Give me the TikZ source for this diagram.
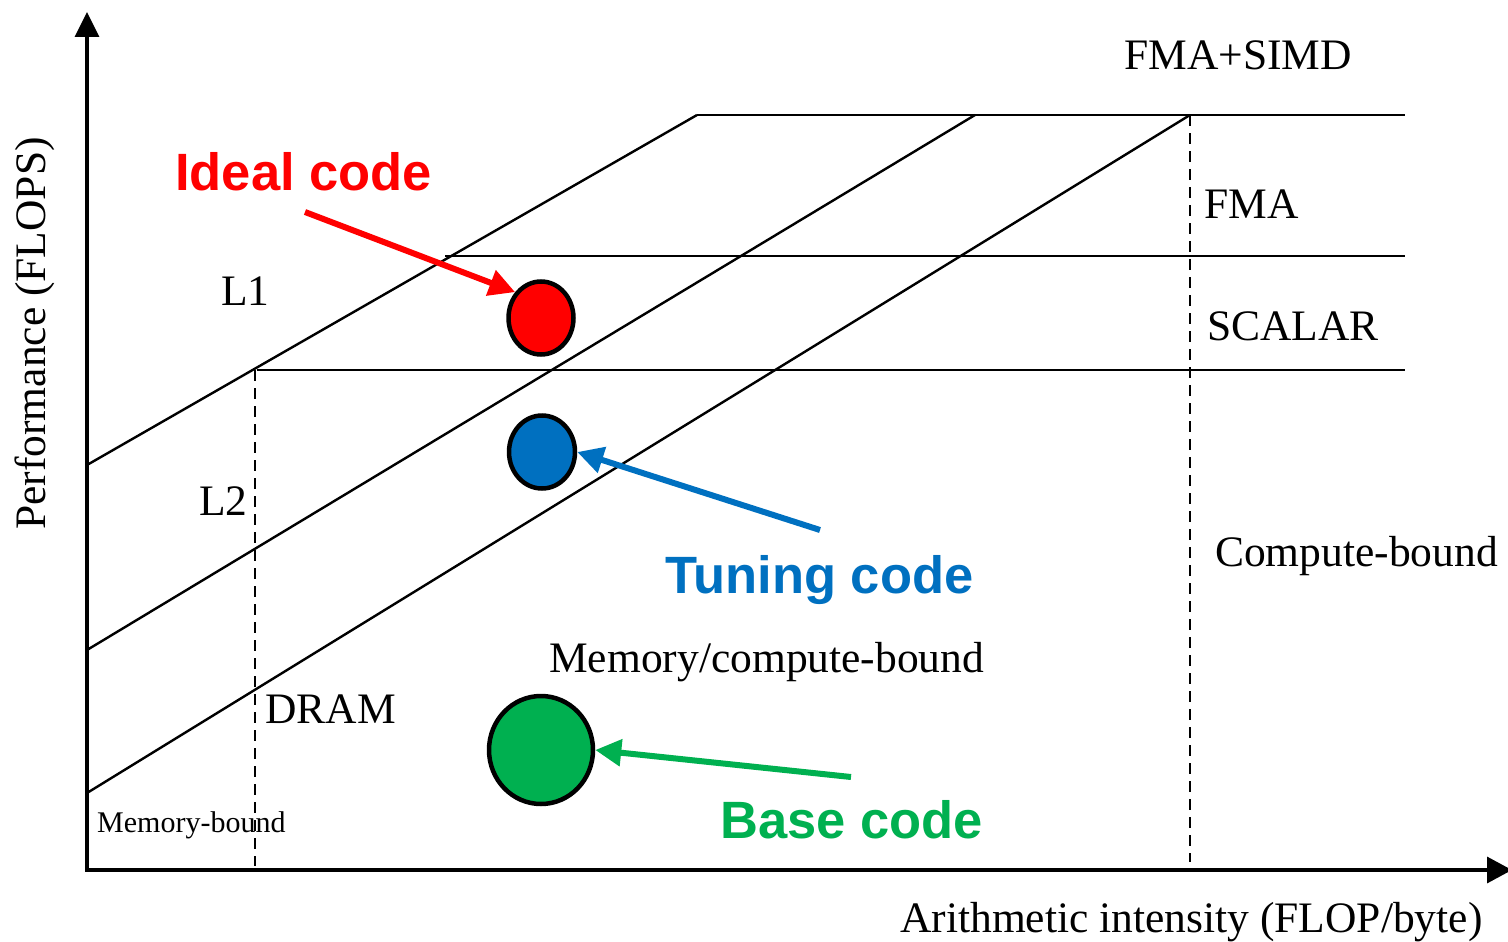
\documentclass[tikz,border=0pt]{standalone}
\usepackage{fontspec}
\setmainfont{Liberation Serif}
\newfontfamily\headsans{Liberation Sans}
\usetikzlibrary{arrows.meta,shapes.geometric}
\definecolor{idealred}{HTML}{FF0000}
\definecolor{tuneblue}{HTML}{0070C0}
\definecolor{basegreen}{HTML}{00B050}
\begin{document}
\begin{tikzpicture}[x=1pt,y=-1pt,
  axis/.style={line width=3.4pt,{Triangle[length=25pt,width=24pt]}-{Triangle[length=25pt,width=26pt]}},
  roof/.style={line width=2.4pt},
  ridge/.style={line width=2.4pt,dash pattern=on 11pt off 7pt},
  lbl/.style={font=\fontsize{43.5}{43.5}\selectfont,inner sep=0pt,anchor=base west},
  tinylbl/.style={font=\fontsize{30}{30}\selectfont,inner sep=0pt,anchor=base west},
  codelbl/.style={font=\headsans\bfseries\fontsize{52.5}{52.5}\selectfont,inner sep=0pt,anchor=base west},
  dot/.style={ellipse,draw=black,line width=4.5pt,inner sep=0pt},
  pointer/.style={line width=6pt,-{Triangle[length=26pt,width=26pt]}}]
\useasboundingbox (0,0) rectangle (1508,942);

% axes
\coordinate (O) at (87,870);
\coordinate (ytop) at (87,12);
\coordinate (xend) at (1512,870);
\draw[axis] (ytop) -- (O) -- (xend);

% bandwidth diagonals
\coordinate (l1a) at (87,465);   \coordinate (l1b) at (697,115);
\coordinate (l2a) at (87,650);   \coordinate (l2b) at (975,115);
\coordinate (dra) at (87,793);   \coordinate (drb) at (1190,115);
\draw[roof] (l1a) -- (l1b);
\draw[roof] (l2a) -- (l2b);
\draw[roof] (dra) -- (drb);

% compute ceilings
\coordinate (simdR) at (1405,115);
\coordinate (fmaL) at (445,256);  \coordinate (fmaR) at (1405,256);
\coordinate (scaL) at (257,370);  \coordinate (scaR) at (1405,370);
\draw[roof] (l1b) -- (simdR);
\draw[roof] (fmaL) -- (fmaR);
\draw[roof] (scaL) -- (scaR);

% ridge points
\coordinate (rL) at (255,370);  \coordinate (rLb) at (255,866);
\coordinate (rR) at (1190,115); \coordinate (rRb) at (1190,862);
\draw[ridge] (rL) -- (rLb);
\draw[ridge] (rR) -- (rRb);

% labels
\node[lbl] (tsimd) at (1124,70) {FMA+SIMD};
\node[lbl] (tfma) at (1204,218) {FMA};
\node[lbl] (tsca) at (1207,340) {SCALAR};
\node[lbl] (tcb) at (1215,566) {Compute-bound};
\node[lbl] (tmcb) at (549,672) {Memory/compute-bound};
\node[lbl] (tdram) at (265,723) {DRAM};
\node[lbl] (tl1) at (221,305) {L1};
\node[lbl] (tl2) at (199,515) {L2};
\node[tinylbl] (tmb) at (97,832) {Memory-bound};
\node[lbl] (txl) at (900,932) {Arithmetic intensity (FLOP/byte)};
\node[lbl,rotate=90] (tyl) at (45,530) {Performance (FLOPS)};

% code points
\node[dot,fill=idealred,minimum width=65pt,minimum height=73pt] (ideal) at (541,318) {};
\node[dot,fill=tuneblue,minimum width=66pt,minimum height=73pt] (tune) at (542,452) {};
\node[dot,fill=basegreen,minimum width=104pt,minimum height=108pt] (base) at (541,750) {};

\node[codelbl,text=idealred] (tideal) at (175,190) {Ideal code};
\node[codelbl,text=tuneblue] (ttune) at (665,593) {Tuning code};
\node[codelbl,text=basegreen] (tbase) at (720,838) {Base code};

\coordinate (pi) at (305,212);
\coordinate (pt) at (820,530);
\coordinate (pb) at (851,777);
\draw[pointer,draw=idealred,fill=idealred] (pi) -- (ideal.135);
\draw[pointer,draw=tuneblue,fill=tuneblue] (pt) -- (tune.east);
\draw[pointer,draw=basegreen,fill=basegreen] (pb) -- (base.east);
\end{tikzpicture}
\end{document}
